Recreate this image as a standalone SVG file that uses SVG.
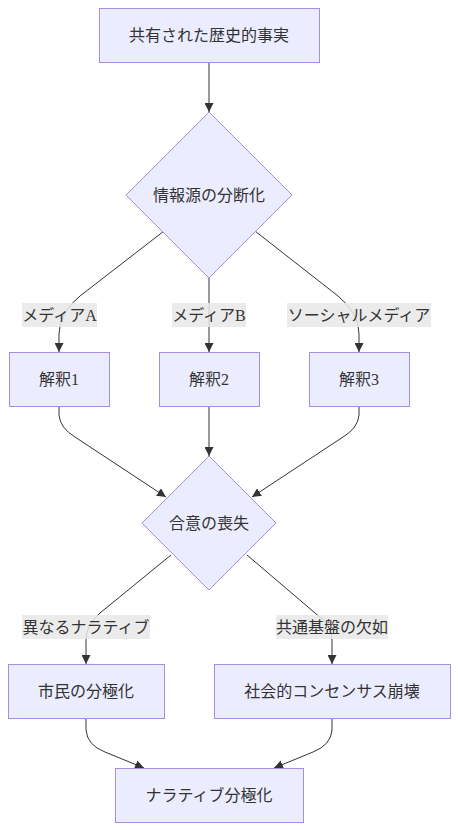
<svg xmlns="http://www.w3.org/2000/svg" width="458" height="830" viewBox="0 0 458 830">
<style>
.node rect,.node polygon{fill:#ECECFF;stroke:#A58EE0;stroke-width:1}
text{font-family:"Liberation Serif","Noto Sans CJK JP",serif;font-size:16px;fill:#333;text-anchor:middle;dominant-baseline:central}
.edge{fill:none;stroke:#333;stroke-width:1}
.lbl rect{fill:#e8e8e8;opacity:0.85}
</style>
<defs>
<marker id="arr" viewBox="0 0 10 10" refX="10" refY="5" markerWidth="9" markerHeight="9" markerUnits="userSpaceOnUse" orient="auto">
<path d="M0,0 L10,5 L0,10 z" fill="#333"/>
</marker>
</defs>
<rect width="458" height="830" fill="#fff"/>
<g id="edges">
<path class="edge" d="M209,62 L209,112" marker-end="url(#arr)"/>
<path class="edge" d="M164,231 L80,296 Q59,313 59,334 L59,352" marker-end="url(#arr)"/>
<path class="edge" d="M209,277 L209,352" marker-end="url(#arr)"/>
<path class="edge" d="M255,231 L338,296 Q359,313 359,334 L359,352" marker-end="url(#arr)"/>
<path class="edge" d="M59,406 L59,415 Q60,428 75,437 L166,497" marker-end="url(#arr)"/>
<path class="edge" d="M209,406 L209,456" marker-end="url(#arr)"/>
<path class="edge" d="M359,406 L359,415 Q358,428 343,437 L252,497" marker-end="url(#arr)"/>
<path class="edge" d="M171,555 L100,613 Q86,625 86,640 L86,664" marker-end="url(#arr)"/>
<path class="edge" d="M247,555 L315,613 Q332,625 332,640 L332,664" marker-end="url(#arr)"/>
<path class="edge" d="M86,718 L86,730 Q87,745 105,752 L144,768" marker-end="url(#arr)"/>
<path class="edge" d="M332,718 L332,730 Q331,745 313,752 L274,768" marker-end="url(#arr)"/>
</g>
<g id="edge-labels">
<g class="lbl"><rect x="22" y="303" width="75" height="24"/><text x="59.5" y="315">メディアA</text></g>
<g class="lbl"><rect x="172" y="303" width="74" height="24"/><text x="209" y="315">メディアB</text></g>
<g class="lbl"><rect x="287" y="303" width="144" height="24"/><text x="359" y="315">ソーシャルメディア</text></g>
<g class="lbl"><rect x="22" y="615" width="128" height="24"/><text x="86" y="627">異なるナラティブ</text></g>
<g class="lbl"><rect x="276" y="615" width="112" height="24"/><text x="332" y="627">共通基盤の欠如</text></g>
</g>
<g id="n-fact" class="node"><rect x="99.5" y="8.5" width="220" height="54"/><text x="209" y="35">共有された歴史的事実</text></g>
<g id="n-split" class="node"><polygon points="209,112 292,195 209,278 126,195"/><text x="209" y="195">情報源の分断化</text></g>
<g id="n-i1" class="node"><rect x="9.5" y="352.5" width="100" height="54"/><text x="59" y="379">解釈1</text></g>
<g id="n-i2" class="node"><rect x="159.5" y="352.5" width="100" height="54"/><text x="209" y="379">解釈2</text></g>
<g id="n-i3" class="node"><rect x="309.5" y="352.5" width="100" height="54"/><text x="359" y="379">解釈3</text></g>
<g id="n-loss" class="node"><polygon points="209,456 276,523 209,590 142,523"/><text x="209" y="523">合意の喪失</text></g>
<g id="n-pol" class="node"><rect x="8.5" y="664.5" width="156" height="54"/><text x="86" y="691">市民の分極化</text></g>
<g id="n-col" class="node"><rect x="214.5" y="664.5" width="236" height="54"/><text x="332" y="691">社会的コンセンサス崩壊</text></g>
<g id="n-nar" class="node"><rect x="115.5" y="768.5" width="188" height="54"/><text x="209" y="795">ナラティブ分極化</text></g>
</svg>
